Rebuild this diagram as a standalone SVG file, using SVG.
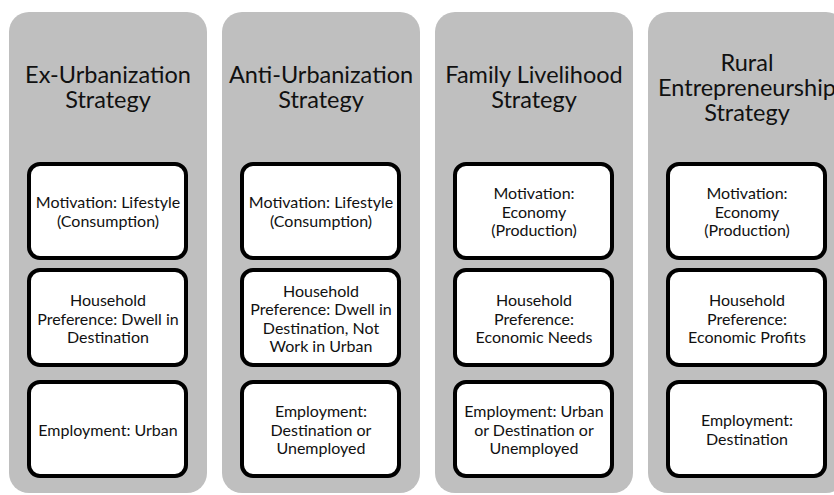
<svg xmlns="http://www.w3.org/2000/svg" width="834" height="495" viewBox="0 0 834 495">
<style>
.col{fill:#bfbfbf;}
.box{fill:#ffffff;stroke:#000000;stroke-width:4;}
.title{font-family:Lato,"Open Sans",sans-serif;font-size:23.5px;fill:#111111;text-anchor:middle;}
.txt{font-family:Lato,"Open Sans",sans-serif;font-size:16px;fill:#111111;text-anchor:middle;}
</style>
<rect width="834" height="495" fill="#ffffff"/>
<g id="col1">
<rect class="col" x="9" y="12" width="198" height="481" rx="20" ry="20"/>
<text class="title" x="108" y="83">Ex-Urbanization</text>
<text class="title" x="108" y="108">Strategy</text>
</g>
<g id="c1-motivation">
<rect class="box" x="29" y="164" width="157" height="94" rx="11" ry="11"/>
<text class="txt" x="108" y="208">Motivation: Lifestyle</text>
<text class="txt" x="108" y="226.5">(Consumption)</text>
</g>
<g id="c1-household">
<rect class="box" x="29" y="270" width="157" height="95" rx="11" ry="11"/>
<text class="txt" x="108" y="306">Household</text>
<text class="txt" x="108" y="324.5">Preference: Dwell in</text>
<text class="txt" x="108" y="343">Destination</text>
</g>
<g id="c1-employment">
<rect class="box" x="29" y="382" width="157" height="94" rx="11" ry="11"/>
<text class="txt" x="108" y="435.5">Employment: Urban</text>
</g>

<g id="col2">
<rect class="col" x="222" y="12" width="198" height="481" rx="20" ry="20"/>
<text class="title" x="321" y="83">Anti-Urbanization</text>
<text class="title" x="321" y="108">Strategy</text>
</g>
<g id="c2-motivation">
<rect class="box" x="242" y="164" width="157" height="94" rx="11" ry="11"/>
<text class="txt" x="321" y="208">Motivation: Lifestyle</text>
<text class="txt" x="321" y="226.5">(Consumption)</text>
</g>
<g id="c2-household">
<rect class="box" x="242" y="270" width="157" height="95" rx="11" ry="11"/>
<text class="txt" x="321" y="296.5">Household</text>
<text class="txt" x="321" y="315">Preference: Dwell in</text>
<text class="txt" x="321" y="333.5">Destination, Not</text>
<text class="txt" x="321" y="352">Work in Urban</text>
</g>
<g id="c2-employment">
<rect class="box" x="242" y="382" width="157" height="94" rx="11" ry="11"/>
<text class="txt" x="321" y="417">Employment:</text>
<text class="txt" x="321" y="435.5">Destination or</text>
<text class="txt" x="321" y="454">Unemployed</text>
</g>

<g id="col3">
<rect class="col" x="435" y="12" width="198" height="481" rx="20" ry="20"/>
<text class="title" x="534" y="83">Family Livelihood</text>
<text class="title" x="534" y="108">Strategy</text>
</g>
<g id="c3-motivation">
<rect class="box" x="455" y="164" width="157" height="94" rx="11" ry="11"/>
<text class="txt" x="534" y="199">Motivation:</text>
<text class="txt" x="534" y="217.5">Economy</text>
<text class="txt" x="534" y="236">(Production)</text>
</g>
<g id="c3-household">
<rect class="box" x="455" y="270" width="157" height="95" rx="11" ry="11"/>
<text class="txt" x="534" y="306">Household</text>
<text class="txt" x="534" y="324.5">Preference:</text>
<text class="txt" x="534" y="343">Economic Needs</text>
</g>
<g id="c3-employment">
<rect class="box" x="455" y="382" width="157" height="94" rx="11" ry="11"/>
<text class="txt" x="534" y="417">Employment: Urban</text>
<text class="txt" x="534" y="435.5">or Destination or</text>
<text class="txt" x="534" y="454">Unemployed</text>
</g>

<g id="col4">
<rect class="col" x="648" y="12" width="198" height="481" rx="20" ry="20"/>
<text class="title" x="747" y="71">Rural</text>
<text class="title" x="747" y="96">Entrepreneurship</text>
<text class="title" x="747" y="121">Strategy</text>
</g>
<g id="c4-motivation">
<rect class="box" x="668" y="164" width="157" height="94" rx="11" ry="11"/>
<text class="txt" x="747" y="199">Motivation:</text>
<text class="txt" x="747" y="217.5">Economy</text>
<text class="txt" x="747" y="236">(Production)</text>
</g>
<g id="c4-household">
<rect class="box" x="668" y="270" width="157" height="95" rx="11" ry="11"/>
<text class="txt" x="747" y="306">Household</text>
<text class="txt" x="747" y="324.5">Preference:</text>
<text class="txt" x="747" y="343">Economic Profits</text>
</g>
<g id="c4-employment">
<rect class="box" x="668" y="382" width="157" height="94" rx="11" ry="11"/>
<text class="txt" x="747" y="426">Employment:</text>
<text class="txt" x="747" y="444.5">Destination</text>
</g>
</svg>
